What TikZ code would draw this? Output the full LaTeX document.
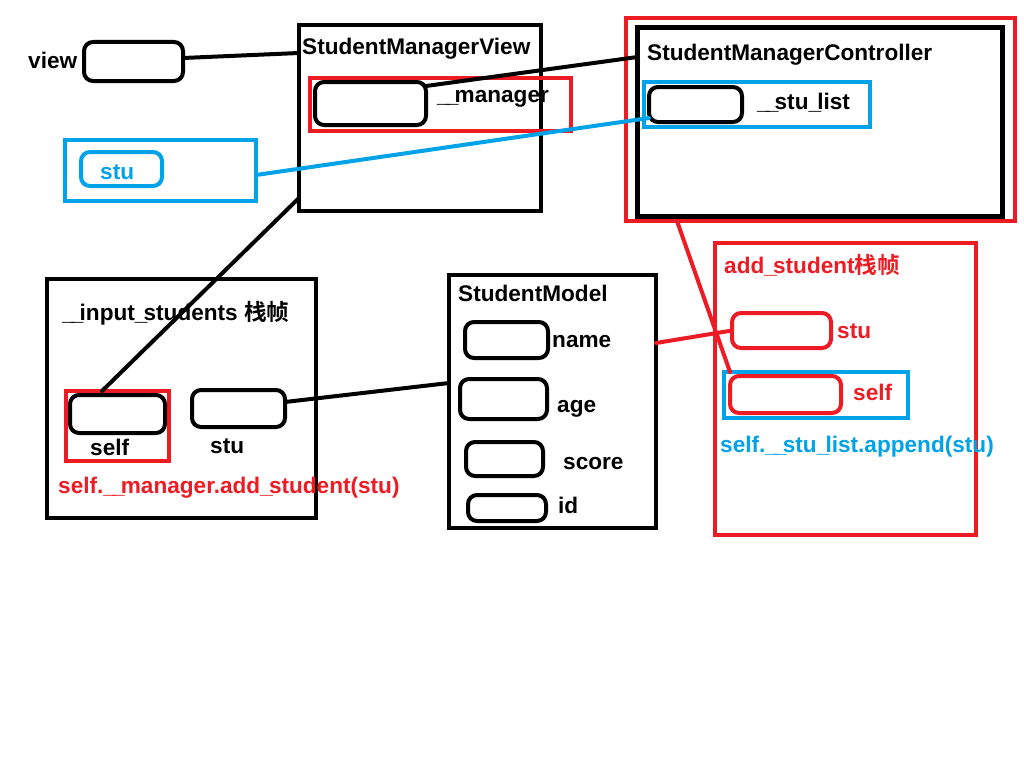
\documentclass[tikz,border=0pt]{standalone}
\usepackage{fontspec}
\setmainfont{Liberation Sans}
\newfontfamily\cjk{Noto Sans CJK SC}[BoldFont={* Bold}]
\newcommand\usc{\_\kern-0.17em}
\definecolor{pred}{HTML}{ED1C24}
\definecolor{pblue}{HTML}{00A2E8}
\tikzset{
  box/.style={draw=black, line width=4pt, inner sep=0pt, outer sep=0pt},
  rbox/.style={box, rounded corners=9pt},
  redbox/.style={box, draw=pred},
  bluebox/.style={box, draw=pblue},
  lbl/.style={anchor=base west, inner sep=0pt, font=\fontsize{22.6}{26}\selectfont\bfseries},
  link/.style={line width=4pt, line cap=round},
}
\begin{document}
\begin{tikzpicture}[x=1pt,y=-1pt]
\useasboundingbox[fill=white] (0,0) rectangle (1024,768);

% view
\node[rbox, minimum width=99pt, minimum height=39pt] (view) at (133.5,61.5) {};
\node[lbl] (viewt) at (28,68) {view};

% StudentManagerView
\node[box, minimum width=242pt, minimum height=186pt] (smv) at (420,118) {};
\node[lbl] (smvt) at (302,55) {StudentManagerView};
\node[redbox, minimum width=261pt, minimum height=53pt] (mgr) at (440.5,104.5) {};
\node[rbox, minimum width=111pt, minimum height=43pt] (mgrbox) at (370.5,103.5) {};
\node[lbl] (mgrt) at (437,102) {\usc\usc manager};

% StudentManagerController
\node[redbox, minimum width=389pt, minimum height=203pt] (smcr) at (820.5,119.5) {};
\node[box, line width=5pt, minimum width=365pt, minimum height=189pt] (smc) at (820,122) {};
\node[lbl] (smct) at (647,60) {StudentManagerController};
\node[bluebox, minimum width=226pt, minimum height=45pt] (sl) at (757,104.5) {};
\node[rbox, minimum width=93pt, minimum height=35pt] (slbox) at (695.5,104.5) {};
\node[lbl] (slt) at (757,109) {\usc\usc stu\usc list};

% stu (view)
\node[bluebox, minimum width=191pt, minimum height=61pt] (stuv) at (160.5,170.5) {};
\node[bluebox, rounded corners=9pt, minimum width=81pt, minimum height=34pt] (stuvbox) at (121.5,169) {};
\node[lbl, text=pblue] (stuvt) at (100,179) {stu};

% __input_students frame
\node[box, minimum width=269pt, minimum height=239pt] (inp) at (181.5,398.5) {};
\node[lbl] (inpt) at (62,320) {\usc\usc input\usc students {\cjk 栈帧}};
\node[redbox, minimum width=103pt, minimum height=70pt] (selfr) at (117.5,426) {};
\node[rbox, minimum width=95pt, minimum height=38pt] (selfbox) at (117.5,414) {};
\node[lbl] (selft) at (90,455) {self};
\node[rbox, minimum width=93pt, minimum height=37pt] (stuin) at (238.5,408.5) {};
\node[lbl] (stuint) at (210,453) {stu};
\node[lbl, text=pred] (callt) at (58,493) {self.\usc\usc manager.add\usc student(stu)};

% StudentModel
\node[box, minimum width=207pt, minimum height=253pt] (sm) at (552.5,401.5) {};
\node[lbl] (smt) at (458,301) {StudentModel};
\node[rbox, minimum width=83pt, minimum height=36pt] (nameb) at (506.5,340) {};
\node[lbl] (namet) at (552,347) {name};
\node[rbox, minimum width=87pt, minimum height=40pt] (ageb) at (503.5,399) {};
\node[lbl] (aget) at (557,412) {age};
\node[rbox, minimum width=77pt, minimum height=34pt] (scoreb) at (504.5,459) {};
\node[lbl] (scoret) at (563,469) {score};
\node[rbox, minimum width=78pt, minimum height=26pt] (idb) at (507,508) {};
\node[lbl] (idt) at (558,513) {id};

% add_student frame
\node[redbox, minimum width=261pt, minimum height=292pt] (add) at (845.5,389) {};
\node[lbl, text=pred] (addt) at (724,273) {add\usc student{\cjk 栈帧}};
\node[redbox, rounded corners=9pt, minimum width=99pt, minimum height=35pt] (astu) at (781.5,330.5) {};
\node[lbl, text=pred] (astut) at (837,338) {stu};
\node[bluebox, minimum width=184pt, minimum height=46pt] (aself) at (816,395) {};
\node[redbox, rounded corners=9pt, minimum width=111pt, minimum height=37pt] (aselfb) at (785.5,394.5) {};
\node[lbl, text=pred] (aselft) at (853,400) {self};
\node[lbl, text=pblue] (appt) at (720,452) {self.\usc\usc stu\usc list.append(stu)};

% connectors
\draw[link] ([yshift=3.5pt]view.east) -- ([yshift=-28pt]smv.north west);
\draw[link] ([yshift=-4pt]mgrbox.north east) -- ([yshift=-29.5pt]smc.north west);
\draw[link, pblue] ([yshift=-4.5pt]stuv.east) -- ([yshift=4pt]slbox.south west);
\draw[link] ([yshift=13pt]smv.south west) -- ([xshift=-15.5pt]selfr.north);
\draw[link] ([yshift=6.5pt]stuin.east) -- ([yshift=18.5pt]sm.west);
\draw[link, pred] ([yshift=58.5pt]sm.east) -- (astu.west);
\draw[link, pred] ([xshift=51pt]smcr.south west) -- ([yshift=4pt]aselfb.north west);
\end{tikzpicture}
\end{document}
